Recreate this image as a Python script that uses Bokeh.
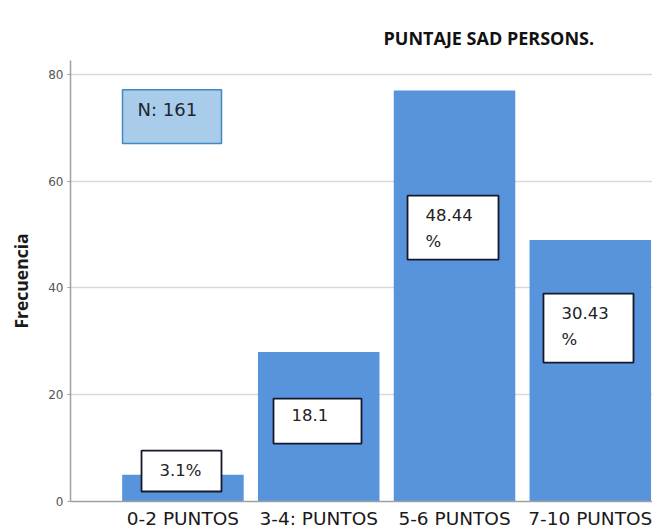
from bokeh.plotting import figure
from bokeh.models import Range1d, FixedTicker, ColumnDataSource
from bokeh.embed import file_html
from bokeh.resources import INLINE
from bokeh.core.properties import value

# ---- data ----
categories = ["0-2 PUNTOS", "3-4: PUNTOS", "5-6 PUNTOS", "7-10 PUNTOS"]
frecuencia = [5, 28, 77, 49]
porcentaje_labels = ["3.1%", "18.1", "48.44\n%", "30.43\n%"]
n_label = "N: 161"
title_text = "PUNTAJE SAD PERSONS."
y_label = "Frecuencia"
y_ticks = [0, 20, 40, 60, 80]

# ---- layout helpers (positions, not data) ----
xpos = [i + 0.5 for i in range(len(categories))]
box_left = [0.195, 1.167, 2.154, 3.155]
box_right = [0.784, 1.815, 2.824, 3.818]
box_top = [9.55, 19.29, 57.3, 38.95]
box_bottom = [1.87, 10.86, 45.3, 26.03]

FONT = "DejaVu Sans"
BAR = "#5894dc"

p = figure(width=652, height=531, output_backend="svg", toolbar_location=None,
           x_range=Range1d(-0.328, 3.958), y_range=Range1d(0, 82.62),
           min_border_left=70, min_border_top=60, min_border_bottom=30,
           min_border_right=0)
p.background_fill_color = "white"
p.border_fill_color = "white"
p.outline_line_color = None

# title
p.title.text = title_text
p.title.text_font = "Open Sans"
p.title.text_font_style = "bold"
p.title.text_font_size = "18px"
p.title.text_color = "#111111"
p.title.align = "left"
p.title.offset = 313
p.title.standoff = 22

# grid
p.xgrid.visible = False
p.ygrid.ticker = FixedTicker(ticks=y_ticks)
p.ygrid.grid_line_color = "#d9d9d9"
p.ygrid.grid_line_width = 1.5

# bars
src = ColumnDataSource(dict(x=xpos, top=frecuencia, cat=categories))
p.vbar(x="x", top="top", bottom=0, width=0.895, source=src,
       fill_color=BAR, line_color=None)

# x axis
p.xaxis.ticker = FixedTicker(ticks=xpos)
p.xaxis.major_label_overrides = {x: c for x, c in zip(xpos, categories)}
p.xaxis.major_tick_line_color = None
p.xaxis.minor_tick_line_color = None
p.xaxis.axis_line_color = "#a0a0a0"
p.xaxis.axis_line_width = 1.5
p.xaxis.major_label_text_font = FONT
p.xaxis.major_label_text_font_size = "18.5px"
p.xaxis.major_label_text_line_height = 1.0
p.xaxis.major_label_text_color = "#1a1a1a"
p.xaxis.major_label_standoff = 0

# y axis
p.yaxis.ticker = FixedTicker(ticks=y_ticks)
p.yaxis.minor_tick_line_color = None
p.yaxis.major_tick_in = 0
p.yaxis.major_tick_out = 3
p.yaxis.major_tick_line_color = "#a0a0a0"
p.yaxis.axis_line_color = "#a0a0a0"
p.yaxis.axis_line_width = 1.5
p.yaxis.major_label_text_font = FONT
p.yaxis.major_label_text_font_size = "12px"
p.yaxis.major_label_text_color = "#555555"
p.yaxis.major_label_standoff = 4
p.yaxis.axis_label = y_label
p.yaxis.axis_label_text_font = "Open Sans"
p.yaxis.axis_label_text_font_style = "bold"
p.yaxis.axis_label_text_font_size = "17.5px"
p.yaxis.axis_label_text_color = "#1a1a1a"
p.yaxis.axis_label_standoff = 12

# N box
p.quad(left=[0.055], right=[0.784], top=[77.15], bottom=[67.05],
       fill_color="#a8cce9", line_color="#3f88c2", line_width=1.5)
p.text(x=[0.055], y=[77.15], text=[n_label], x_offset=15, y_offset=9,
       text_baseline="top", text_align="left",
       text_font=value(FONT), text_font_size="18px", text_color="#1b2733")

# percentage boxes
lsrc = ColumnDataSource(dict(left=box_left, right=box_right, top=box_top,
                             bottom=box_bottom, label=porcentaje_labels))
p.quad(left="left", right="right", top="top", bottom="bottom", source=lsrc,
       fill_color="white", line_color="#15182b", line_width=1.8)
p.text(x="left", y="top", text="label", source=lsrc, x_offset=18, y_offset=10,
       text_baseline="top", text_align="left", text_line_height=1.4,
       text_font=value(FONT), text_font_size="16.5px", text_color="#222222")

open("out.html", "w").write(file_html(p, INLINE))
